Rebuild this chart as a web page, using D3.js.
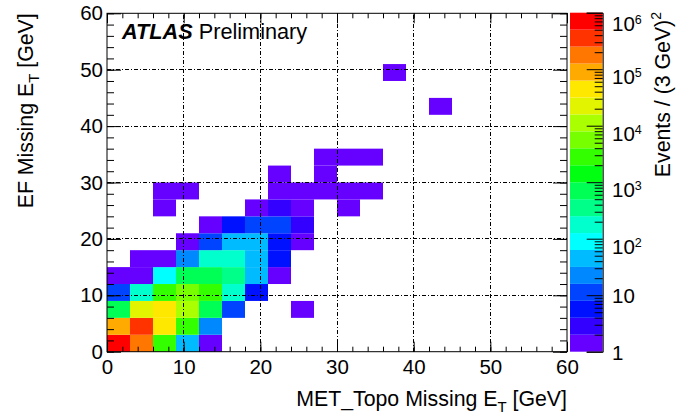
<!DOCTYPE html>
<html>
<head>
<meta charset="utf-8">
<script src="https://cdn.jsdelivr.net/npm/d3@7"></script>
<style>
body { margin: 0; background: #fff; }
svg text { font-family: "Liberation Sans", Arial, Helvetica, sans-serif; fill: #000; }
.tick line { stroke: #000; }
</style>
</head>
<body>
<svg id="chart" width="692" height="418"></svg>
<script>
// bins are 3 GeV x 3 GeV; lower edges in GeV
var binX = [0, 3, 6, 9, 12,
            0, 3, 6, 9, 12,
            0, 3, 6, 9, 12, 15, 24,
            0, 3, 6, 9, 12, 15, 18,
            0, 3, 6, 9, 12, 15, 18, 21,
            3, 6, 9, 12, 15, 18, 21,
            9, 12, 15, 18, 21, 24,
            12, 15, 18, 21, 24,
            6, 18, 21, 24, 30,
            6, 9, 21, 24, 27, 30, 33,
            21, 27,
            27, 30, 33,
            42, 36];
var binY = [0, 0, 0, 0, 0,
            3, 3, 3, 3, 3,
            6, 6, 6, 6, 6, 6, 6,
            9, 9, 9, 9, 9, 9, 9,
            12, 12, 12, 12, 12, 12, 12, 12,
            15, 15, 15, 15, 15, 15, 15,
            18, 18, 18, 18, 18, 18,
            21, 21, 21, 21, 21,
            24, 24, 24, 24, 24,
            27, 27, 27, 27, 27, 27, 27,
            30, 30,
            33, 33, 33,
            42, 48];
var events = [700000, 180000, 2800, 45, 1,
              90000, 350000, 45000, 2800, 22,
              700, 22000, 45000, 11000, 700, 11, 1,
              11, 180, 2800, 5600, 2800, 180, 6,
              1, 1, 90, 700, 700, 350, 45, 1,
              1, 1, 22, 180, 180, 45, 6,
              1, 11, 45, 45, 6, 1,
              1, 6, 11, 11, 3,
              1, 1, 3, 1, 1,
              1, 1, 1, 1, 1, 1, 1,
              1, 1,
              1, 1, 1,
              1, 1];
var binW = 3;

var axisTicks = [0, 10, 20, 30, 40, 50, 60];
var zDecades = [1, 10, 100, 1e3, 1e4, 1e5, 1e6];
// 20 contour colours, low -> high
var zColors = ["#6600ff", "#3300ff", "#0011ff", "#0044ff", "#0088ff",
               "#00bbff", "#00ffff", "#00ffcc", "#00ff88", "#00ff55",
               "#00ff11", "#33ff00", "#77ff00", "#aaff00", "#e2f400",
               "#ffe800", "#ffaa00", "#ff7700", "#ff3300", "#ff0000"];

var cells = binX.map(function (x, i) { return {x: x, y: binY[i], n: events[i]}; });

var svg = d3.select("#chart");
var L = 107, R = 567, T = 13.3, B = 351.7;

var x = d3.scaleLinear().domain([0, 60]).range([L, R]),
    y = d3.scaleLinear().domain([0, 60]).range([B, T]),
    z = d3.scaleLog().domain([1, 1e6]).range([B, 12.7]),
    col = d3.scaleQuantize().domain([0, 6]).range(zColors);

// cells
svg.append("g").selectAll("rect").data(cells).enter().append("rect")
    .attr("x", function (d) { return x(d.x); })
    .attr("y", function (d) { return y(d.y + binW); })
    .attr("width", function (d) { return x(d.x + binW) - x(d.x); })
    .attr("height", function (d) { return y(d.y) - y(d.y + binW); })
    .attr("fill", function (d) { return col(Math.log10(d.n)); });

// grid (dash-dot, on top of the cells)
var grid = svg.append("g").attr("stroke", "#000").attr("stroke-width", 1)
    .attr("stroke-dasharray", "4,2,1,2").attr("shape-rendering", "crispEdges");
var inner = axisTicks.slice(1, -1);
grid.selectAll(".gx").data(inner).enter().append("line")
    .attr("x1", x).attr("x2", x).attr("y1", B).attr("y2", T);
grid.selectAll(".gy").data(inner).enter().append("line")
    .attr("y1", y).attr("y2", y).attr("x1", L).attr("x2", R);

// axes, ROOT style ticks pointing inwards on all four sides
var minor = d3.range(0, 61, 2);
function ax(gen, tx, ty, size, labels, vals) {
    var g = svg.append("g").attr("transform", "translate(" + tx + "," + ty + ")")
        .call(gen.tickValues(vals).tickSize(-size).tickPadding(labels ? 8 : 0)
            .tickFormat(labels ? d3.format("d") : ""));
    g.select(".domain").remove();
    g.selectAll("text").style("font-size", "20.5px").style("font-family", null);
    return g;
}
ax(d3.axisBottom(x), 0, B, 10, true, axisTicks);
ax(d3.axisBottom(x), 0, B, 5, false, minor);
ax(d3.axisTop(x), 0, T, 10, false, axisTicks);
ax(d3.axisTop(x), 0, T, 5, false, minor);
var yl = ax(d3.axisLeft(y), L, 0, 14, true, axisTicks);
ax(d3.axisLeft(y), L, 0, 7, false, minor);
ax(d3.axisRight(y), R, 0, 14, false, axisTicks);
ax(d3.axisRight(y), R, 0, 7, false, minor);
yl.selectAll("text").attr("x", -4);

svg.append("rect").attr("x", L).attr("y", T).attr("width", R - L).attr("height", B - T)
    .attr("fill", "none").attr("stroke", "#000").attr("stroke-width", 1);

// colour bar
var CB0 = 570, CB1 = 602.7;
svg.append("g").selectAll("rect").data(zColors).enter().append("rect")
    .attr("x", CB0).attr("width", CB1 - CB0)
    .attr("y", function (c, i) { return z(Math.pow(10, 0.3 * (i + 1))); })
    .attr("height", function (c, i) { return z(Math.pow(10, 0.3 * i)) - z(Math.pow(10, 0.3 * (i + 1))); })
    .attr("fill", function (c) { return c; });

var zMinor = [];
zDecades.slice(0, -1).forEach(function (d) { d3.range(2, 10).forEach(function (m) { zMinor.push(d * m); }); });
var zg = svg.append("g").attr("transform", "translate(" + CB1 + ",0)");
zg.call(d3.axisRight(z).tickValues(zDecades).tickSize(-16).tickFormat(""));
zg.select(".domain").attr("stroke", "#000");
svg.append("g").attr("transform", "translate(" + CB1 + ",0)")
    .call(d3.axisRight(z).tickValues(zMinor).tickSize(-8).tickFormat(""))
    .select(".domain").remove();

var zl = svg.append("g").selectAll("text").data(zDecades).enter().append("text")
    .attr("x", 612)
    .attr("y", function (d) { return z(d) + (d < 100 ? 8 : (d == 1e6 ? 18 : 15)); })
    .style("font-size", "20.5px");
zl.append("tspan").text(function (d) { return d < 100 ? String(d) : "10"; });
zl.filter(function (d) { return d >= 100; }).append("tspan")
    .attr("dy", -7).style("font-size", "12.5px")
    .text(function (d) { return Math.round(Math.log10(d)); });

// titles
var xt = svg.append("text").attr("x", R).attr("y", 406).attr("text-anchor", "end").style("font-size", "21.3px");
xt.append("tspan").text("MET_Topo Missing E");
xt.append("tspan").attr("dy", 6).style("font-size", "15px").text("T");
xt.append("tspan").attr("dy", -6).text(" [GeV]");

var yt = svg.append("text").attr("transform", "translate(33," + T + ") rotate(-90)")
    .attr("text-anchor", "end").style("font-size", "21.3px");
yt.append("tspan").text("EF Missing E");
yt.append("tspan").attr("dy", 6).style("font-size", "15px").text("T");
yt.append("tspan").attr("dy", -6).text(" [GeV]");

var zt = svg.append("text").attr("transform", "translate(670,12) rotate(-90)")
    .attr("text-anchor", "end").style("font-size", "21.3px");
zt.append("tspan").text("Events / (3 GeV)");
zt.append("tspan").attr("dy", -9).style("font-size", "14px").text("2");

var lab = svg.append("text").attr("x", 122).attr("y", 39).style("font-size", "21.7px");
lab.append("tspan").style("font-weight", "bold").style("font-style", "italic").text("ATLAS");
lab.append("tspan").text(" Preliminary");
</script>
</body>
</html>
